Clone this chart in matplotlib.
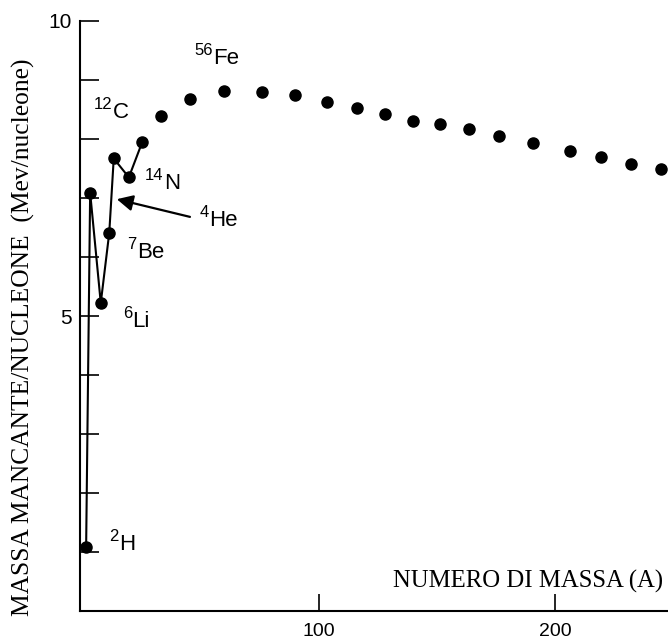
import matplotlib
matplotlib.use("Agg")
import matplotlib.pyplot as plt

# Curve with connecting line (light nuclei)
line_A = [1.3, 3.0, 7.5, 11.1, 13.0, 19.4, 25.1]
line_E = [1.09, 7.09, 5.22, 6.41, 7.67, 7.35, 7.95]

# Isolated dots (heavier nuclei)
dot_A = [33.0, 45.5, 59.6, 76.0, 89.8, 103.4, 116.0, 128.0, 139.8, 151.3,
         163.4, 176.3, 190.5, 206.4, 219.4, 232.2, 245.0]
dot_E = [8.39, 8.67, 8.82, 8.79, 8.74, 8.63, 8.52, 8.42, 8.31, 8.26,
         8.17, 8.05, 7.93, 7.80, 7.69, 7.57, 7.49]

# Nuclide labels: (mass number, symbol, x of symbol, baseline y)
labels = [
    ('56', 'Fe', 55.2, 9.27),
    ('12', 'C', 12.8, 8.36),
    ('14', 'N', 34.3, 7.16),
    ('4', 'He', 53.5, 6.53),
    ('7', 'Be', 23.0, 5.98),
    ('6', 'Li', 21.0, 4.82),
    ('2', 'H', 15.4, 1.03),
]
arrow_tip = (14.3, 6.98)
arrow_tail = (45.3, 6.68)

y_ticks = [1, 2, 3, 4, 5, 6, 7, 8, 9, 10]
y_ticklabels = ['', '', '', '', '5', '', '', '', '', '10']
x_ticks = [100, 200]
x_ticklabels = ['100', '200']

fig = plt.figure(figsize=(6.68, 6.44), dpi=100)
ax = fig.add_axes([80/668, 33/644, 588/668, 590/644])

ax.plot(line_A, line_E, color='black', lw=1.5, marker='o', ms=8, mec='black', mfc='black')
ax.plot(dot_A, dot_E, linestyle='none', marker='o', ms=8, color='black')

for sup, sym, x, y in labels:
    ax.annotate(sym, (x, y), xytext=(0, 0), textcoords='offset points',
                fontsize=16, family='Liberation Sans', ha='left', va='baseline')
    ax.annotate(sup, (x, y), xytext=(-0.5, 6.5), textcoords='offset points',
                fontsize=12, family='Liberation Sans', ha='right', va='baseline')

ax.annotate('', xy=arrow_tip, xytext=arrow_tail,
            arrowprops=dict(arrowstyle='-|>', color='black', lw=1.6,
                            mutation_scale=24, shrinkA=0, shrinkB=0))

ax.text(245.8, 0.39, 'NUMERO DI MASSA (A)', fontsize=17.8, family='Liberation Serif',
        ha='right', va='baseline')

ax.set_xlim(-1.3, 247.9)
ax.set_ylim(0, 10)
ax.spines['top'].set_visible(False)
ax.spines['right'].set_visible(False)
ax.spines['left'].set_linewidth(1.5)
ax.spines['bottom'].set_linewidth(1.5)

ax.set_yticks(y_ticks)
ax.set_yticklabels(y_ticklabels)
ax.set_xticks(x_ticks)
ax.set_xticklabels(x_ticklabels)
ax.tick_params(axis='y', direction='in', length=14, width=1.2, pad=6, labelsize=15)
ax.tick_params(axis='x', direction='in', length=12, width=1.2, pad=9, labelsize=14)
for lab in ax.get_xticklabels() + ax.get_yticklabels():
    lab.set_family('Liberation Sans')

ax.set_ylabel('MASSA MANCANTE/NUCLEONE  (Mev/nucleone)', fontsize=18.4,
              family='Liberation Serif')
ax.yaxis.set_label_coords(-0.0765, 0.464)

fig.savefig('out.png', dpi=100)
